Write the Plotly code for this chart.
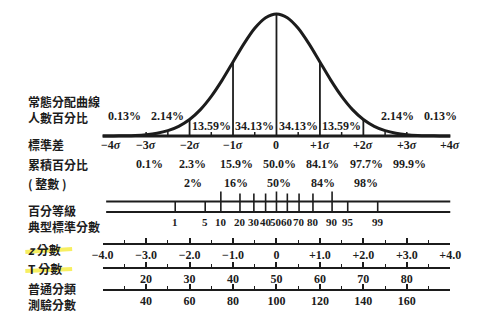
import numpy as np
import plotly.graph_objects as go

# ---------------- data ----------------
curve_z = [-4, -3.75, -3.5, -3.25, -3, -2.75, -2.5, -2.25, -2, -1.75, -1.5, -1.25, -1,
           -0.75, -0.5, -0.25, 0, 0.25, 0.5, 0.75, 1, 1.25, 1.5, 1.75, 2, 2.25, 2.5,
           2.75, 3, 3.25, 3.5, 3.75, 4]
curve_density = [0.0001, 0.0004, 0.0009, 0.0020, 0.0044, 0.0091, 0.0175, 0.0317, 0.0540,
                 0.0863, 0.1295, 0.1826, 0.2420, 0.3011, 0.3521, 0.3867, 0.3989, 0.3867,
                 0.3521, 0.3011, 0.2420, 0.1826, 0.1295, 0.0863, 0.0540, 0.0317, 0.0175,
                 0.0091, 0.0044, 0.0020, 0.0009, 0.0004, 0.0001]
divider_z = [-2, -1, 0, 1, 2]
sigma_z = [-4, -3, -2, -1, 0, 1, 2, 3, 4]
sigma_labels = ["−4<i>σ</i>", "−3<i>σ</i>", "−2<i>σ</i>", "−1<i>σ</i>", "0",
                "+1<i>σ</i>", "+2<i>σ</i>", "+3<i>σ</i>", "+4<i>σ</i>"]
area_pct = ["0.13%", "2.14%", "13.59%", "34.13%", "34.13%", "13.59%", "2.14%", "0.13%"]
cum_z = [-3, -2, -1, 0, 1, 2, 3]
cum_pct = ["0.1%", "2.3%", "15.9%", "50.0%", "84.1%", "97.7%", "99.9%"]
round_z = [-2, -1, 0, 1, 2]
round_pct = ["2%", "16%", "50%", "84%", "98%"]
pct_rank = [1, 5, 10, 20, 30, 40, 50, 60, 70, 80, 90, 95, 99]
pct_rank_z = [-2.33, -1.64, -1.28, -0.84, -0.52, -0.25, 0.0, 0.25, 0.52, 0.84, 1.28, 1.64, 2.33]
z_ticks = [-4, -3, -2, -1, 0, 1, 2, 3, 4]
z_tick_text = ["−4.0", "−3.0", "−2.0", "−1.0", "0", "+1.0", "+2.0", "+3.0", "+4.0"]
t_ticks = [10, 20, 30, 40, 50, 60, 70, 80, 90]
t_tick_text = ["", "20", "30", "40", "50", "60", "70", "80", ""]
iq_ticks = [20, 40, 60, 80, 100, 120, 140, 160, 180]
iq_tick_text = ["", "40", "60", "80", "100", "120", "140", "160", ""]
row_labels = ["常態分配曲線<br>人數百分比", "標準差", "累積百分比", "( 整數 )",
              "百分等級", "典型標準分數", "<i>z</i> 分數", "T 分數", "普通分類<br>測驗分數"]

# ---------------- layout constants ----------------
W, H = 488, 334
Z0_PX, SIG_PX = 278, 45.5
BASE_ROW, PEAK_ROW = 136, 14
INK = "#1c1c1c"
SERIF = "Liberation Serif, DejaVu Serif, serif"
CJK = "Noto Sans CJK TC, Noto Sans CJK SC, sans-serif"

px_per_unit = (BASE_ROW - PEAK_ROW) / max(curve_density)
y2_bottom_row = BASE_ROW + 4
y2_range = [-(y2_bottom_row - BASE_ROW) / px_per_unit, max(curve_density) + PEAK_ROW / px_per_unit]

fig = go.Figure()

# normal curve
fig.add_trace(go.Scatter(x=curve_z, y=curve_density, xaxis="x", yaxis="y2", mode="lines",
                         line=dict(color=INK, width=3, shape="spline", smoothing=0.8),
                         hoverinfo="skip", showlegend=False))
# baseline
fig.add_trace(go.Scatter(x=[sigma_z[0], sigma_z[-1]], y=[0, 0], xaxis="x", yaxis="y2",
                         mode="lines", line=dict(color=INK, width=3),
                         hoverinfo="skip", showlegend=False))
# dividers under the curve
vx, vy = [], []
for z in divider_z:
    d = curve_density[curve_z.index(z)]
    vx += [z, z, None]
    vy += [0, d, None]
fig.add_trace(go.Scatter(x=vx, y=vy, xaxis="x", yaxis="y2", mode="lines",
                         line=dict(color=INK, width=1.8), hoverinfo="skip", showlegend=False))
# small ticks on baseline
bt = [-3, -2.5, -1.5, -0.5, 0.5, 1.5, 2.5, 3]
tx, ty = [], []
for z in bt:
    tx += [z, z, None]
    ty += [BASE_ROW, BASE_ROW - 4, None]
fig.add_trace(go.Scatter(x=tx, y=ty, xaxis="x", yaxis="y", mode="lines",
                         line=dict(color=INK, width=1.5), hoverinfo="skip", showlegend=False))

# percentile scale
TOP_ROW, BOT_ROW = 201.5, 212
fig.add_trace(go.Scatter(x=[-3.92, 4, None, -3.92, 4], y=[TOP_ROW, TOP_ROW, None, BOT_ROW, BOT_ROW],
                         xaxis="x", yaxis="y", mode="lines", line=dict(color=INK, width=1.8),
                         hoverinfo="skip", showlegend=False))
px_, py_ = [], []
for p, z in zip(pct_rank, pct_rank_z):
    top = TOP_ROW - 8 if 10 <= p <= 90 else TOP_ROW
    if p in (10, 50, 90):
        top -= 2
    px_ += [z, z, None]
    py_ += [BOT_ROW, top, None]
fig.add_trace(go.Scatter(x=px_, y=py_, xaxis="x", yaxis="y", mode="lines",
                         line=dict(color=INK, width=1.6), hoverinfo="skip", showlegend=False))

# dummy traces so scale axes are drawn
for ax, vals in (("x2", z_ticks), ("x3", t_ticks), ("x4", iq_ticks)):
    fig.add_trace(go.Scatter(x=[vals[0], vals[-1]], y=[-50, -50], xaxis=ax, yaxis="y",
                             mode="markers", marker=dict(opacity=0), hoverinfo="skip",
                             showlegend=False))

ann = []


def text(x, y, s, size=12, family=SERIF, xref="x", xanchor="center", xshift=0, align="left"):
    ann.append(dict(x=x, y=y, xref=xref, yref="y", text=s, showarrow=False,
                    xanchor=xanchor, yanchor="middle", xshift=xshift, align=align,
                    font=dict(family=family, size=size, color=INK, weight="bold")))


# area percentages
mids = [(a + b) / 2 for a, b in zip(sigma_z[:-1], sigma_z[1:])]
for i, (m, s) in enumerate(zip(mids, area_pct)):
    outer = i in (0, 1, 6, 7)
    text(m, 116 if outer else 126, s, xshift=(12 if i >= 6 else 0))
# sigma labels
for z, s in zip(sigma_z, sigma_labels):
    text(z, 145, s, xshift=(8 if z == -4 else 0))
for z, s in zip(cum_z, cum_pct):
    text(z, 164, s, xshift=3)
for z, s in zip(round_z, round_pct):
    text(z, 183, s, xshift=3)
for p, z in zip(pct_rank, pct_rank_z):
    text(z, 222, str(p), size=11)

# row labels on the left
row_y = [109.5, 144, 164, 183, 210, 226, 249, 268, 296]
for s, y in zip(row_labels, row_y):
    text(16 / W, y, s, size=12, family=CJK, xref="paper", xanchor="left")

fig.update_layout(annotations=ann)

# yellow highlight strokes
shapes = []
for (x0, y0, x1, y1) in ((15, 252, 64, 249), (15, 271, 64, 269)):
    shapes.append(dict(type="line", xref="paper", yref="y", x0=x0 / W, x1=x1 / W, y0=y0, y1=y1,
                       line=dict(color="rgba(246,236,70,0.85)", width=4), layer="below"))
fig.update_layout(shapes=shapes)

dom = [(Z0_PX - 4 * SIG_PX) / W, (Z0_PX + 4 * SIG_PX) / W]


def scale_axis(row, rng, tickvals, ticktext, minor_step):
    minor_vals = list(np.arange(rng[0], rng[1] + 1e-9, minor_step))
    return dict(domain=dom, range=rng, anchor="free", position=1 - row / H, side="bottom",
                showline=True, linecolor=INK, linewidth=2, showgrid=False, zeroline=False,
                ticks="inside", ticklen=5, tickwidth=1.6, tickcolor=INK,
                tickmode="array", tickvals=tickvals, ticktext=ticktext,
                tickfont=dict(family=SERIF, size=12, color=INK, weight="bold"),
                minor=dict(tickmode="array", tickvals=minor_vals, ticks="inside", ticklen=3,
                           tickwidth=1.4, tickcolor=INK, showgrid=False),
                fixedrange=True)


fig.update_layout(
    width=W, height=H, margin=dict(l=0, r=0, t=0, b=0, pad=0),
    paper_bgcolor="white", plot_bgcolor="rgba(0,0,0,0)", showlegend=False,
    xaxis=dict(domain=[0, 1], range=[-Z0_PX / SIG_PX, (W - Z0_PX) / SIG_PX], visible=False,
               fixedrange=True),
    yaxis=dict(domain=[0, 1], range=[H, 0], visible=False, fixedrange=True),
    yaxis2=dict(domain=[1 - y2_bottom_row / H, 1], range=y2_range, anchor="x", visible=False,
                fixedrange=True),
    xaxis2=scale_axis(244, [-4, 4], z_ticks, z_tick_text, 0.5),
    xaxis3=scale_axis(268, [10, 90], t_ticks, t_tick_text, 5),
    xaxis4=scale_axis(290, [20, 180], iq_ticks, iq_tick_text, 10),
)

fig.write_html("out.html")
